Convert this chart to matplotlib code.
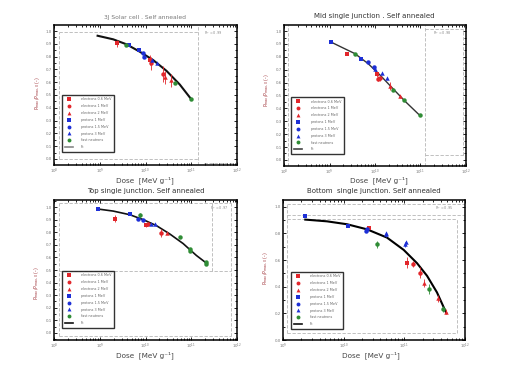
import matplotlib
matplotlib.use("Agg")
import matplotlib.pyplot as plt
import numpy as np
from matplotlib.lines import Line2D
from matplotlib.ticker import LogLocator, MultipleLocator, FormatStrFormatter, LogFormatterMathtext, NullFormatter

# ---------------- data ----------------
TITLES = ["3J Solar cell . Self annealed", "Mid single junction . Self annealed",
          "Top single junction. Self annealed", "Bottom  single junction. Self annealed"]
XLABEL = "Dose  [MeV g\u207b\u00b9]"
YLABEL = "P$_{max}$/P$_{max,0}$ (-)"
LEGEND_LABELS = ["electrons 0.6 MeV", "electrons 1 MeV", "electrons 2 MeV",
                 "protons 1 MeV", "protons 1.5 MeV", "protons 3 MeV",
                 "fast neutrons", "fit"]
R2_TEXT = ["R$^2$ = 0.99", "R$^2$ = 0.98", "R$^2$ = 0.97", "R$^2$ = 0.95"]

# series index: 0-2 electrons (red), 3-5 protons (blue), 6 neutrons (green)
P1_DOSE = [2.4e9, 1.23e10, 1.35e10, 2.45e10, 2.63e10, 3.55e10, 4.37e9, 7.24e9, 8.91e9, 9.12e9,
           1.41e10, 1.74e10, 3.72e9, 4.37e10, 1.0e11]
P1_VAL = [0.903, 0.773, 0.747, 0.663, 0.637, 0.616, 0.888, 0.851, 0.825, 0.80,
          0.773, 0.752, 0.893, 0.595, 0.465]
P1_ERR = [0.03, 0.04, 0.05, 0.06, 0.05, 0.05, 0, 0, 0, 0, 0, 0, 0, 0, 0]
P1_SER = [0, 0, 1, 1, 2, 2, 3, 3, 4, 4, 5, 5, 6, 6, 6]
P1_FIT_DOSE = [8.97e8, 1.97e9, 3.85e9, 7.52e9, 1.47e10, 2.87e10, 5.61e10, 1.01e11]
P1_FIT_VAL = [0.963, 0.935, 0.896, 0.838, 0.773, 0.689, 0.582, 0.465]

P2_DOSE = [2.4e9, 1.12e10, 1.15e10, 1.29e10, 2.19e10, 3.63e10, 1.06e9, 5.01e9, 7.08e9, 9.33e9,
           1.02e10, 1.45e10, 1.86e10, 3.61e9, 2.51e10, 4.27e10, 9.55e10]
P2_VAL = [0.825, 0.663, 0.629, 0.632, 0.572, 0.493, 0.916, 0.786, 0.757, 0.72,
          0.708, 0.676, 0.637, 0.822, 0.543, 0.467, 0.347]
P2_ERR = [0, 0.02, 0.02, 0.02, 0.03, 0.01, 0, 0, 0, 0, 0, 0, 0, 0, 0, 0, 0]
P2_SER = [0, 0, 1, 1, 2, 2, 3, 3, 4, 4, 5, 5, 5, 6, 6, 6, 6]
P2_FIT_DOSE = [1.06e9, 1.91e9, 3.61e9, 7.08e9, 1.32e10, 2.51e10, 4.68e10, 9.55e10]
P2_FIT_VAL = [0.916, 0.872, 0.825, 0.747, 0.655, 0.551, 0.452, 0.347]

P3_DOSE = [2.14e9, 1.05e10, 1.12e10, 2.14e10, 2.88e10, 9.27e8, 4.68e9, 6.92e9, 8.91e9,
           1.35e10, 1.58e10, 7.76e9, 5.62e10, 9.33e10, 9.33e10, 2.14e11, 2.14e11]
P3_VAL = [0.908, 0.860, 0.865, 0.794, 0.794, 0.984, 0.942, 0.908, 0.900,
          0.868, 0.868, 0.934, 0.763, 0.668, 0.649, 0.549, 0.560]
P3_ERR = [0.03, 0.015, 0.015, 0.03, 0.01, 0, 0, 0, 0, 0, 0, 0.02, 0, 0, 0, 0, 0]
P3_SER = [0, 0, 1, 1, 2, 3, 3, 4, 4, 5, 5, 6, 6, 6, 6, 6, 6]
P3_FIT_DOSE = [9.27e8, 1.97e9, 4.55e9, 8.89e9, 1.74e10, 3.40e10, 6.64e10, 1.30e11, 2.21e11]
P3_FIT_VAL = [0.984, 0.968, 0.939, 0.900, 0.852, 0.786, 0.710, 0.615, 0.551]

P4_DOSE = [2.57e10, 1.10e11, 1.38e11, 1.78e11, 2.14e11, 3.55e11, 4.90e11, 2.28e9, 1.17e10,
           2.34e10, 2.40e10, 4.90e10, 5.01e10, 1.02e11, 1.05e11, 3.55e10, 2.51e11, 4.37e11]
P4_VAL = [0.838, 0.581, 0.569, 0.506, 0.431, 0.312, 0.212, 0.930, 0.853,
          0.818, 0.830, 0.793, 0.805, 0.718, 0.736, 0.718, 0.382, 0.232]
P4_ERR = [0, 0.04, 0.02, 0.04, 0.03, 0.025, 0.02, 0, 0, 0, 0, 0.02, 0, 0.02, 0, 0.025, 0.04, 0.02]
P4_SER = [0, 0, 1, 1, 2, 2, 2, 3, 3, 4, 4, 5, 5, 5, 5, 6, 6, 6]
P4_FIT_DOSE = [2.33e9, 5.31e9, 1.14e10, 2.43e10, 5.18e10, 9.75e10, 1.62e11, 2.37e11, 3.45e11, 4.92e11]
P4_FIT_VAL = [0.903, 0.890, 0.868, 0.830, 0.768, 0.676, 0.576, 0.481, 0.357, 0.202]

# ---------------- style ----------------
RED, BLUE, GREEN = "#e2262b", "#1d2fd6", "#2f8c35"
S_COLORS = [RED, RED, RED, BLUE, BLUE, BLUE, GREEN]
S_MARKERS = ["s", "o", "^", "s", "o", "^", "o"]
DASH = dict(color="#b5b5b5", lw=0.6, ls=(0, (4, 2)))

fig = plt.figure(figsize=(5.09, 3.73), dpi=100)
W, H = 509.0, 373.0

def axes_px(l, t, r, b):
    return fig.add_axes([l / W, 1 - b / H, (r - l) / W, (b - t) / H])

panels = [
    dict(box=(54, 25, 237, 165), xlim=(1e8, 1e12), ylim=(-0.047, 1.047), ymaj=0.1,
         data=(P1_DOSE, P1_VAL, P1_ERR, P1_SER), fit=(P1_FIT_DOSE, P1_FIT_VAL),
         fitc="#111111", fitlw=1.5, legc="#888888",
         leg=(0.044, 0.093), title=(145, 17, 4.3, "#777777"),
         xlab=(145, 180), ylab=(38, 93), r2=(0.87, 0.94),
         dashes=[((0.029, 0.029), (0.045, 0.952)), ((0.787, 0.787), (0.0, 1.0)),
                 ((0.029, 0.787), (0.952, 0.952)), ((0.029, 0.787), (0.045, 0.045)),
                 ((0.82, 0.98), (0.012, 0.012))]),
    dict(box=(284, 25, 466, 166), xlim=(1e8, 1e12), ylim=(-0.047, 1.047), ymaj=0.1,
         data=(P2_DOSE, P2_VAL, P2_ERR, P2_SER), fit=(P2_FIT_DOSE, P2_FIT_VAL),
         fitc="#333333", fitlw=1.0, legc="#444444",
         leg=(0.040, 0.085), title=(374, 16, 5.0, "#333333"),
         xlab=(379, 180), ylab=(267, 90), r2=(0.87, 0.943),
         dashes=[((0.024, 0.024), (0.0, 1.0)), ((0.773, 0.773), (0.0, 1.0)),
                 ((0.773, 0.982), (0.971, 0.971)), ((0.773, 1.0), (0.076, 0.076)),
                 ((0.982, 0.982), (0.076, 0.971))]),
    dict(box=(54, 200, 237, 340), xlim=(1e8, 1e12), ylim=(-0.056, 1.056), ymaj=0.1,
         data=(P3_DOSE, P3_VAL, P3_ERR, P3_SER), fit=(P3_FIT_DOSE, P3_FIT_VAL),
         fitc="#111111", fitlw=1.2, legc="#111111",
         leg=(0.044, 0.086), title=(146, 191, 5.0, "#333333"),
         xlab=(145, 355), ylab=(37, 283), r2=(0.9, 0.938),
         dashes=[((0.029, 0.029), (0.031, 0.976)), ((0.969, 0.969), (0.031, 0.976)),
                 ((0.029, 0.969), (0.976, 0.976)), ((0.029, 0.969), (0.494, 0.494)),
                 ((0.029, 0.969), (0.031, 0.031)), ((0.864, 0.864), (0.494, 0.976))]),
    dict(box=(283, 200, 465, 340), xlim=(1e9, 1e12), ylim=(0.0, 1.05), ymaj=0.2,
         data=(P4_DOSE, P4_VAL, P4_ERR, P4_SER), fit=(P4_FIT_DOSE, P4_FIT_VAL),
         fitc="#000000", fitlw=1.5, legc="#111111",
         leg=(0.044, 0.079), title=(374, 191, 5.0, "#333333"),
         xlab=(371, 355), ylab=(266, 268), r2=(0.885, 0.938),
         dashes=[((0.022, 1.0), (0.969, 0.969)), ((0.022, 1.0), (0.893, 0.893)),
                 ((0.022, 0.956), (0.862, 0.862)), ((0.022, 0.022), (0.05, 0.969)),
                 ((0.956, 0.956), (0.05, 0.862)), ((0.022, 0.956), (0.05, 0.05))]),
]

for i, p in enumerate(panels):
    ax = axes_px(*p["box"])
    ax.set_xscale("log")
    ax.set_xlim(*p["xlim"])
    ax.set_ylim(*p["ylim"])
    for sp in ax.spines.values():
        sp.set_linewidth(1.1)
    ax.xaxis.set_major_locator(LogLocator(base=10, numticks=10))
    ax.xaxis.set_minor_locator(LogLocator(base=10, subs=np.arange(2, 10), numticks=20))
    ax.xaxis.set_major_formatter(LogFormatterMathtext())
    ax.xaxis.set_minor_formatter(NullFormatter())
    ax.yaxis.set_major_locator(MultipleLocator(p["ymaj"]))
    ax.yaxis.set_minor_locator(MultipleLocator(p["ymaj"] / 2))
    ax.yaxis.set_major_formatter(FormatStrFormatter("%.1f"))
    ax.tick_params(which="both", direction="in", top=True, right=True,
                   labelsize=2.8, labelcolor="#777777", width=0.6, pad=1.5)
    ax.tick_params(which="major", length=2.2)
    ax.tick_params(which="minor", length=1.2)

    for (xs, ys) in p["dashes"]:
        ax.plot(xs, ys, transform=ax.transAxes, zorder=1, **DASH)

    fx, fy = p["fit"]
    ax.plot(fx, fy, color=p["fitc"], lw=p["fitlw"], zorder=3)

    dose, val, err, ser = p["data"]
    for d, v, e, s in zip(dose, val, err, ser):
        ax.errorbar([d], [v], yerr=[e] if e > 0 else None, fmt=S_MARKERS[s],
                    color=S_COLORS[s], ms=3.2, mew=0, elinewidth=0.6, capsize=1.3,
                    capthick=0.6, zorder=4)

    handles = [Line2D([], [], marker=S_MARKERS[k], color=S_COLORS[k], ls="none", ms=2.8, mew=0)
               for k in range(7)]
    handles.append(Line2D([], [], color=p["legc"], lw=1.2))
    leg = ax.legend(handles, LEGEND_LABELS, loc="lower left", bbox_to_anchor=(p["leg"][0], p["leg"][1]),
                    fontsize=2.4, labelspacing=0.85, borderpad=0.8, handlelength=2.4,
                    handletextpad=2.6, frameon=True, fancybox=False, borderaxespad=0)
    leg.get_frame().set_edgecolor("black")
    leg.get_frame().set_linewidth(1.0)
    for t in leg.get_texts():
        t.set_color("#666666")

    ax.text(p["r2"][0], p["r2"][1], R2_TEXT[i], transform=ax.transAxes, fontsize=2.4,
            color="#888888", ha="center", va="center")

    tx, ty, ts, tc = p["title"]
    fig.text(tx / W, 1 - ty / H, TITLES[i], fontsize=ts, color=tc, ha="center", va="center")
    fig.text(p["xlab"][0] / W, 1 - p["xlab"][1] / H, XLABEL, fontsize=5.2, color="#444444",
             ha="center", va="center")
    fig.text(p["ylab"][0] / W, 1 - p["ylab"][1] / H, YLABEL, fontsize=3.3, color="#a0343a",
             ha="center", va="center", rotation=90)

fig.savefig("out.png", dpi=100)
